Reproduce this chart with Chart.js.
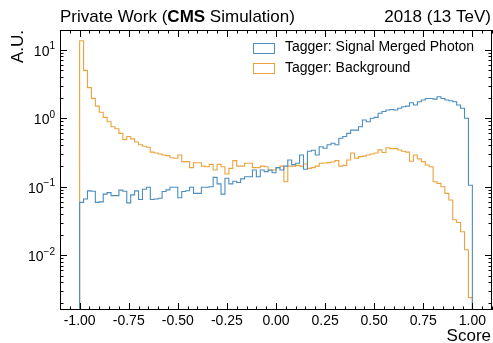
<!DOCTYPE html>
<html><head><meta charset="utf-8">
<script src="https://cdn.jsdelivr.net/npm/chart.js@4.4.1/dist/chart.umd.min.js"></script>
<style>html,body{margin:0;padding:0;background:#fff}#wrap{width:493px;height:343px}</style>
</head><body><div id="wrap"><canvas id="c" width="493" height="343"></canvas></div>
<script>
// ---- data ----
const binLow = -1.0;
const binWidth = 0.02;
const signal = [
0.059,0.066,0.087,0.086,0.059,0.060,0.078,0.082,0.074,0.074,
0.089,0.086,0.058,0.076,0.087,0.065,0.092,0.098,0.065,0.066,
0.068,0.085,0.090,0.098,0.098,0.069,0.085,0.0875,0.098,0.080,
0.080,0.098,0.098,0.100,0.137,0.110,0.078,0.133,0.110,0.120,
0.115,0.130,0.140,0.140,0.175,0.140,0.175,0.166,0.175,0.160,
0.190,0.175,0.200,0.245,0.210,0.220,0.290,0.180,0.330,0.340,
0.290,0.384,0.364,0.410,0.430,0.410,0.510,0.540,0.600,0.670,
0.670,0.750,0.940,0.890,1.000,1.030,1.180,1.250,1.320,1.340,
1.320,1.400,1.470,1.500,1.680,1.560,1.740,1.840,1.940,1.940,
1.900,2.060,1.940,1.840,1.800,1.740,1.560,1.400,1.000,0.105];
const background = [
13.5,5.0,2.8,1.95,1.5,1.22,1.03,0.89,0.75,0.70,
0.60,0.49,0.54,0.50,0.45,0.41,0.39,0.376,0.32,0.31,
0.30,0.29,0.284,0.265,0.26,0.29,0.232,0.232,0.19,0.224,
0.224,0.20,0.196,0.212,0.175,0.212,0.196,0.153,0.185,0.24,
0.20,0.20,0.22,0.22,0.19,0.19,0.20,0.196,0.175,0.175,
0.19,0.20,0.118,0.20,0.20,0.205,0.20,0.215,0.185,0.19,
0.20,0.22,0.222,0.225,0.23,0.24,0.20,0.205,0.245,0.31,
0.26,0.275,0.28,0.29,0.30,0.31,0.345,0.315,0.37,0.36,
0.36,0.343,0.33,0.32,0.235,0.29,0.255,0.232,0.207,0.196,
0.118,0.112,0.10,0.08,0.064,0.033,0.030,0.022,0.012,0.0024];
const seriesNames = ['Tagger: Signal Merged Photon','Tagger: Background'];
const xTickValues = [-1.00,-0.75,-0.50,-0.25,0.00,0.25,0.50,0.75,1.00];
const xTickLabels = ['-1.00','-0.75','-0.50','-0.25','0.00','0.25','0.50','0.75','1.00'];
const yTickExponents = [-2,-1,0,1];
const xLimits = [-1.1, 1.1];
const yLimits = [1.585e-3, 19.4];

// ---- style ----
const COL_SIG = '#4a8dc0';
const COL_BKG = '#eda23e';
const FONT = '"Liberation Sans", Arial, Helvetica, sans-serif';

function histPoints(vals){
  const floor = 1e-7;
  const pts = [{x: binLow, y: floor}];
  vals.forEach((v,i)=>pts.push({x: binLow + i*binWidth, y: v}));
  const hi = binLow + vals.length*binWidth;
  pts.push({x: hi, y: vals[vals.length-1]});
  pts.push({x: hi, y: floor});
  return pts;
}

const decor = {
  id: 'decor',
  afterDraw(chart){
    const ctx = chart.ctx, a = chart.chartArea;
    const xs = chart.scales.x, ys = chart.scales.y;
    ctx.save();
    ctx.strokeStyle = '#000'; ctx.fillStyle = '#000';
    ctx.lineWidth = 1;
    ctx.strokeRect(a.left+0.5, a.top+0.5, a.right-a.left-1, a.bottom-a.top-1);
    const MAJ = 7, MIN = 3.5;
    ctx.beginPath();
    for (let k = -22; k <= 22; k++){
      const v = k*0.05;
      if (v < xLimits[0]-1e-9 || v > xLimits[1]+1e-9) continue;
      const px = Math.round(xs.getPixelForValue(v)) + 0.5;
      const isMaj = Math.abs(k % 5) === 0;
      const L = isMaj ? MAJ : MIN;
      ctx.moveTo(px, a.bottom); ctx.lineTo(px, a.bottom - L);
      ctx.moveTo(px, a.top); ctx.lineTo(px, a.top + L);
    }
    for (let d = -3; d <= 1; d++){
      for (let m = 1; m <= 9; m++){
        const v = m*Math.pow(10,d);
        if (v < yLimits[0] || v > yLimits[1]) continue;
        const py = Math.round(ys.getPixelForValue(v)) + 0.5;
        const L = m === 1 ? MAJ : MIN;
        ctx.moveTo(a.left, py); ctx.lineTo(a.left + L, py);
        ctx.moveTo(a.right, py); ctx.lineTo(a.right - L, py);
      }
    }
    ctx.stroke();
    ctx.font = '14px ' + FONT;
    ctx.textAlign = 'center'; ctx.textBaseline = 'top';
    xTickValues.forEach((v,i)=>{
      ctx.fillText(xTickLabels[i], xs.getPixelForValue(v), a.bottom + 4);
    });
    yTickExponents.forEach(e=>{
      const py = ys.getPixelForValue(Math.pow(10,e));
      ctx.font = '10px ' + FONT;
      const sup = String(e).replace('-', '\u2212');
      const wSup = ctx.measureText(sup).width;
      ctx.font = '14px ' + FONT;
      const wBase = ctx.measureText('10').width;
      const right = a.left - 5;
      ctx.textAlign = 'left'; ctx.textBaseline = 'alphabetic';
      ctx.fillText('10', right - wSup - wBase, py + 6);
      ctx.font = '10px ' + FONT;
      ctx.fillText(sup, right - wSup, py - 0.5);
    });
    ctx.textBaseline = 'alphabetic';
    ctx.textAlign = 'left';
    let x = a.left;
    const ty = 21.5;
    ctx.font = '17px ' + FONT;
    ctx.fillText('Private Work (', x, ty); x += ctx.measureText('Private Work (').width;
    ctx.font = 'bold 17px ' + FONT;
    ctx.fillText('CMS', x, ty); x += ctx.measureText('CMS').width;
    ctx.font = '17px ' + FONT;
    ctx.fillText(' Simulation)', x, ty);
    ctx.textAlign = 'right';
    ctx.fillText('2018 (13 TeV)', a.right - 1, ty);
    ctx.fillText('Score', a.right - 1, 341);
    ctx.save();
    ctx.translate(23, a.top);
    ctx.rotate(-Math.PI/2);
    ctx.textAlign = 'right';
    ctx.fillText('A.U.', 0, 0);
    ctx.restore();
    const cols = [COL_SIG, COL_BKG];
    ctx.font = '14px ' + FONT;
    ctx.textAlign = 'left'; ctx.textBaseline = 'middle';
    seriesNames.forEach((n,i)=>{
      const cy = 47.5 + i*20.5;
      ctx.strokeStyle = cols[i]; ctx.lineWidth = 1;
      ctx.strokeRect(253.5, Math.round(cy-5)+0.5, 21, 10);
      ctx.fillStyle = '#000';
      ctx.fillText(n, 285, cy);
    });
    ctx.restore();
  }
};

new Chart(document.getElementById('c'), {
  type: 'line',
  data: {
    datasets: [
      {label: seriesNames[0], data: histPoints(signal), borderColor: COL_SIG, borderWidth: 1.1, stepped: 'before', pointRadius: 0, fill: false},
      {label: seriesNames[1], data: histPoints(background), borderColor: COL_BKG, borderWidth: 1.1, stepped: 'before', pointRadius: 0, fill: false}
    ]
  },
  options: {
    responsive: false, animation: false, devicePixelRatio: 1,
    layout: {padding: {left: 60, top: 30, right: 1, bottom: 33}},
    plugins: {legend: {display: false}, tooltip: {enabled: false}},
    scales: {
      x: {type: 'linear', min: xLimits[0], max: xLimits[1], grid: {display: false}, border: {display: false}, ticks: {display: false}, afterFit: s => { s.height = 0; }},
      y: {type: 'logarithmic', min: yLimits[0], max: yLimits[1], grid: {display: false}, border: {display: false}, ticks: {display: false}, afterFit: s => { s.width = 0; }}
    }
  },
  plugins: [decor]
});
</script></body></html>
